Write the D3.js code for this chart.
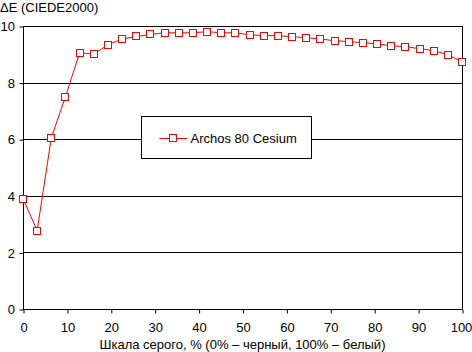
<!DOCTYPE html>
<html>
<head>
<meta charset="utf-8">
<script src="https://cdnjs.cloudflare.com/ajax/libs/d3/7.8.5/d3.min.js"></script>
<style>
  body { margin: 0; background: #fff; }
  text { font-family: "Liberation Sans", Arial, sans-serif; font-size: 13px; fill: #000; }
</style>
</head>
<body>
<div id="chart"></div>
<script>
var width = 472, height = 352;

// grey level, % (32 steps from 0 to 100)
var greyLevels = d3.range(32).map(function (i) { return i * 100 / 31; });
var deltaE = [3.90, 2.77, 6.05, 7.50, 9.06, 9.00, 9.34, 9.54, 9.63, 9.70,
    9.76, 9.76, 9.76, 9.80, 9.76, 9.76, 9.69, 9.66, 9.66, 9.62,
    9.59, 9.54, 9.48, 9.45, 9.41, 9.37, 9.30, 9.27, 9.20, 9.13,
    8.99, 8.74];
var xTicks = [0, 10, 20, 30, 40, 50, 60, 70, 80, 90, 100];
var yTicks = [0, 2, 4, 6, 8, 10];
var seriesName = 'Archos 80 Cesium';
var yTitle = 'ΔE (CIEDE2000)';
var xTitle = 'Шкала серого, % (0% – черный, 100% – белый)';

var data = greyLevels.map(function (g, i) { return { x: g, y: deltaE[i] }; });

var plotLeft = 23, plotRight = 462, plotTop = 26, plotBottom = 309;

var x = d3.scaleLinear().domain([0, 100]).range([plotLeft, plotRight]);
var y = d3.scaleLinear().domain([0, 10]).range([plotBottom, plotTop]);

var svg = d3.select('#chart').append('svg')
    .attr('width', width)
    .attr('height', height);

// horizontal grid lines
svg.append('g')
    .selectAll('line')
    .data(yTicks)
    .join('line')
    .attr('x1', plotLeft).attr('x2', plotRight)
    .attr('y1', function (d) { return Math.round(y(d)) + 0.5; })
    .attr('y2', function (d) { return Math.round(y(d)) + 0.5; })
    .attr('stroke', '#000');

// right border
svg.append('line')
    .attr('x1', plotRight + 0.5).attr('x2', plotRight + 0.5)
    .attr('y1', plotTop).attr('y2', plotBottom + 0.5)
    .attr('stroke', '#000');

// x axis
var xAxis = svg.append('g')
    .attr('transform', 'translate(0.5,' + (plotBottom + 0.5) + ')')
    .call(d3.axisBottom(x).tickValues(xTicks).tickSize(4).tickPadding(9).tickSizeOuter(0));
xAxis.select('.domain').remove();
xAxis.selectAll('line').attr('stroke', '#000');
xAxis.selectAll('text').style('font-family', '"Liberation Sans", Arial, sans-serif').style('font-size', '13px');
// last label sits right at the window edge, keep it inside
xAxis.selectAll('text').filter(function (d) { return d === 100; }).attr('dx', -1.5);

// y axis
var yAxis = svg.append('g')
    .attr('transform', 'translate(' + (plotLeft + 0.5) + ',0.5)')
    .call(d3.axisLeft(y).tickValues(yTicks).tickSize(4).tickPadding(4.5).tickSizeOuter(0));
yAxis.select('.domain').attr('d', 'M0,' + plotTop + 'V' + plotBottom).attr('stroke', '#000');
yAxis.selectAll('line').attr('stroke', '#000');
yAxis.selectAll('text').style('font-family', '"Liberation Sans", Arial, sans-serif').style('font-size', '13px');

// series line
var line = d3.line().x(function (d) { return x(d.x); }).y(function (d) { return y(d.y); });
svg.append('path')
    .datum(data)
    .attr('d', line)
    .attr('fill', 'none')
    .attr('stroke', '#ff0000')
    .attr('stroke-width', 1);

// markers
svg.append('g')
    .selectAll('rect')
    .data(data)
    .join('rect')
    .attr('x', function (d) { return Math.round(x(d.x)) - 3.5; })
    .attr('y', function (d) { return Math.round(y(d.y)) - 3.5; })
    .attr('width', 7).attr('height', 7)
    .attr('fill', '#fff')
    .attr('stroke', '#ff0000')
    .attr('stroke-width', 1);

// legend
var legend = svg.append('g').attr('transform', 'translate(141.5,116.5)');
legend.append('rect')
    .attr('width', 170).attr('height', 42)
    .attr('fill', '#fff').attr('stroke', '#000');
legend.append('line')
    .attr('x1', 18).attr('x2', 46).attr('y1', 22).attr('y2', 22)
    .attr('stroke', '#ff0000');
legend.append('rect')
    .attr('x', 28).attr('y', 18).attr('width', 7).attr('height', 7)
    .attr('fill', '#fff').attr('stroke', '#ff0000');
legend.append('text')
    .attr('x', 49).attr('y', 26.5)
    .text(seriesName);

// titles
svg.append('text')
    .attr('x', 0).attr('y', 12)
    .text(yTitle);

svg.append('text')
    .attr('x', (plotLeft + plotRight) / 2).attr('y', 349)
    .attr('text-anchor', 'middle')
    .text(xTitle);
</script>
</body>
</html>
